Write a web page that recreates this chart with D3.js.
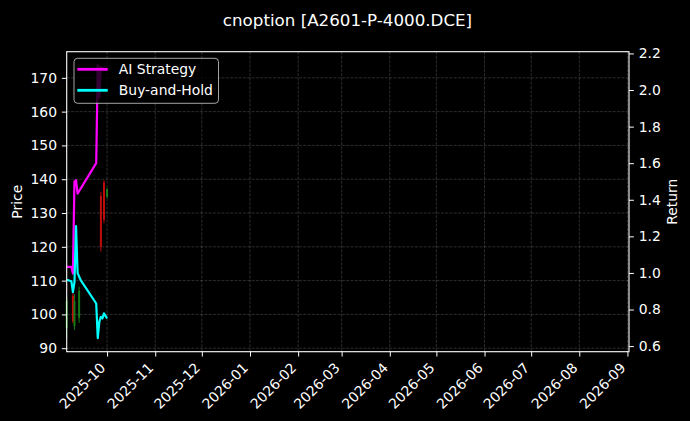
<!DOCTYPE html>
<html lang="en">
<head>
    <meta charset="UTF-8">
    <title>cnoption [A2601-P-4000.DCE]</title>
    <script src="https://d3js.org/d3.v7.min.js"></script>
    <style>
        html, body { margin: 0; padding: 0; background: #000; }
        svg { display: block; font-family: "DejaVu Sans", sans-serif; }
    </style>
</head>
<body>
    <svg id="chart"></svg>

    <script>
        // candles on the price axis
        var candleDates = ["2025-09-05", "2025-09-09", "2025-09-10", "2025-09-13", "2025-09-26", "2025-09-27", "2025-09-29", "2025-10-01"];
        var candleOpen  = [96.0, 105.5, 96.5, 99.0, 172.0, 135.0, 139.0, 134.8];
        var candleHigh  = [105.3, 106.3, 106.0, 108.2, 173.7, 136.3, 139.7, 137.4];
        var candleLow   = [93.0, 97.4, 95.4, 97.5, 163.4, 118.6, 127.0, 134.4];
        var candleClose = [104.0, 98.0, 104.0, 107.0, 165.0, 120.0, 128.0, 137.0];

        // cumulative returns on the right axis
        var strategyDates = ["2025-09-05", "2025-09-08", "2025-09-09", "2025-09-10", "2025-09-11", "2025-09-12", "2025-09-24", "2025-09-25", "2025-09-26", "2025-09-27", "2025-09-29", "2025-10-01"];
        var strategyReturn = [1.033, 1.033, 0.997, 1.500, 1.507, 1.434, 1.600, 2.135, 1.961, 2.125, 2.110, 2.115];

        var holdDates = ["2025-09-05", "2025-09-08", "2025-09-09", "2025-09-10", "2025-09-11", "2025-09-12", "2025-09-14", "2025-09-24", "2025-09-25", "2025-09-26", "2025-09-27", "2025-09-28", "2025-09-29", "2025-10-01"];
        var holdReturn = [0.963, 0.955, 0.895, 0.950, 1.256, 1.000, 0.961, 0.833, 0.644, 0.733, 0.760, 0.751, 0.779, 0.751];

        var xStart = "2025-09-05", xEnd = "2026-09-02";
        var seriesNames = ["AI Strategy", "Buy-and-Hold"];
        var seriesColors = ["#ff00ff", "#00ffff"];

        var W = 690, H = 421;
        var margin = { top: 51.7, right: 61, bottom: 69.3, left: 66.7 };
        var width = W - margin.left - margin.right;
        var height = H - margin.top - margin.bottom;
        var fs = 13.9, tick = 4.86;

        var parse = d3.timeParse("%Y-%m-%d");

        var svg = d3.select("#chart").attr("width", W).attr("height", H);
        svg.append("rect").attr("width", W).attr("height", H).attr("fill", "#000");

        var g = svg.append("g").attr("transform", "translate(" + margin.left + "," + margin.top + ")");

        // scales
        var x = d3.scaleTime().domain([parse(xStart), parse(xEnd)]).range([0, width]);

        var pMin = d3.min(candleLow), pMax = d3.max(candleHigh);
        var pPad = (pMax - pMin) * 0.05;
        var yPrice = d3.scaleLinear().domain([pMin - pPad, pMax + pPad]).range([height, 0]);

        var rAll = strategyReturn.concat(holdReturn);
        var rMin = d3.min(rAll), rMax = d3.max(rAll);
        var rPad = (rMax - rMin) * 0.05;
        var yRet = d3.scaleLinear().domain([rMin - rPad, rMax + rPad]).range([height, 0]);

        var xTicks = d3.timeMonth.every(1).range(parse("2025-09-06"), parse(xEnd));
        var pTicks = d3.range(90, 171, 10);
        var rTicks = d3.range(0.6, 2.21, 0.2);

        // grid
        var grid = g.append("g").attr("stroke", "#fff").attr("stroke-opacity", 0.22)
            .attr("stroke-width", 0.8).attr("stroke-dasharray", "3,1.3");
        grid.selectAll(".gx").data(xTicks).enter().append("line")
            .attr("x1", d => x(d)).attr("x2", d => x(d)).attr("y1", 0).attr("y2", height);
        grid.selectAll(".gy").data(pTicks).enter().append("line")
            .attr("x1", 0).attr("x2", width).attr("y1", d => yPrice(d)).attr("y2", d => yPrice(d));

        // candles
        var candles = candleDates.map((d, i) => ({
            date: parse(d), o: candleOpen[i], h: candleHigh[i], l: candleLow[i], c: candleClose[i]
        }));
        var cg = g.append("g").attr("opacity", 0.75);
        cg.selectAll(".wick").data(candles).enter().append("line")
            .attr("x1", d => x(d.date)).attr("x2", d => x(d.date))
            .attr("y1", d => yPrice(d.h)).attr("y2", d => yPrice(d.l))
            .attr("stroke", d => d.c >= d.o ? "#1fa01f" : "#ff1010")
            .attr("stroke-width", 1);
        cg.selectAll(".body").data(candles).enter().append("rect")
            .attr("x", d => x(d.date) - 1)
            .attr("width", 2)
            .attr("y", d => yPrice(Math.max(d.o, d.c)))
            .attr("height", d => Math.abs(yPrice(d.o) - yPrice(d.c)))
            .attr("fill", d => d.c >= d.o ? "#1fa01f" : "#ff1010");

        // return lines
        var line = d3.line().x(d => x(d.date)).y(d => yRet(d.v));
        var strategy = strategyDates.map((d, i) => ({ date: parse(d), v: strategyReturn[i] }));
        var hold = holdDates.map((d, i) => ({ date: parse(d), v: holdReturn[i] }));
        [strategy, hold].forEach(function(s, i) {
            g.append("path").datum(s)
                .attr("d", line)
                .attr("fill", "none")
                .attr("stroke", seriesColors[i])
                .attr("stroke-width", 2.2)
                .attr("stroke-linejoin", "round");
        });

        // axes
        var xAxis = g.append("g")
            .attr("transform", "translate(0," + height + ")")
            .style("color", "#fff")
            .call(d3.axisBottom(x).tickValues(xTicks).tickFormat(d3.timeFormat("%Y-%m"))
                .tickSize(tick).tickPadding(tick).tickSizeOuter(0));
        xAxis.selectAll("text")
            .attr("font-size", fs).attr("font-family", "DejaVu Sans")
            .attr("text-anchor", "end")
            .attr("dy", null).attr("x", 0).attr("y", 0)
            .attr("transform", "translate(-1.4," + (tick * 2 + 7.4) + ") rotate(-45)");

        var yAxisL = g.append("g")
            .style("color", "#fff")
            .call(d3.axisLeft(yPrice).tickValues(pTicks).tickFormat(d3.format("d"))
                .tickSize(tick).tickPadding(tick).tickSizeOuter(0));
        yAxisL.selectAll("text").attr("font-size", fs).attr("font-family", "DejaVu Sans");

        var yAxisR = g.append("g")
            .attr("transform", "translate(" + width + ",0)")
            .style("color", "#fff")
            .call(d3.axisRight(yRet).tickValues(rTicks).tickFormat(d3.format(".1f"))
                .tickSize(tick).tickPadding(tick).tickSizeOuter(0));
        yAxisR.selectAll("text").attr("font-size", fs).attr("font-family", "DejaVu Sans");

        g.selectAll(".domain").remove();

        // frame
        g.append("rect").attr("width", width).attr("height", height)
            .attr("fill", "none").attr("stroke", "#fff").attr("stroke-width", 1.1);

        // labels
        svg.append("text")
            .attr("x", 347.5).attr("y", 25.5)
            .attr("text-anchor", "middle").attr("fill", "#fff")
            .attr("font-size", 16.7)
            .text("cnoption [A2601-P-4000.DCE]");

        svg.append("text")
            .attr("transform", "translate(22," + (margin.top + height / 2) + ") rotate(-90)")
            .attr("text-anchor", "middle").attr("fill", "#fff").attr("font-size", fs)
            .text("Price");

        svg.append("text")
            .attr("transform", "translate(677," + (margin.top + height / 2) + ") rotate(-90)")
            .attr("text-anchor", "middle").attr("fill", "#fff").attr("font-size", fs)
            .text("Return");

        // legend
        var legend = g.append("g").attr("transform", "translate(7.3,6.6)");
        legend.append("rect")
            .attr("width", 144.5).attr("height", 45).attr("rx", 3.5)
            .attr("fill", "#000").attr("fill-opacity", 0.8)
            .attr("stroke", "#ccc").attr("stroke-opacity", 0.8).attr("stroke-width", 1);
        seriesNames.forEach(function(name, i) {
            var yy = 11 + i * 21;
            legend.append("line")
                .attr("x1", 3.3).attr("x2", 33.7).attr("y1", yy).attr("y2", yy)
                .attr("stroke", seriesColors[i]).attr("stroke-width", 2.8);
            legend.append("text")
                .attr("x", 44.8).attr("y", yy).attr("dy", "0.35em")
                .attr("fill", "#fff").attr("font-size", fs)
                .text(name);
        });
    </script>
</body>
</html>
